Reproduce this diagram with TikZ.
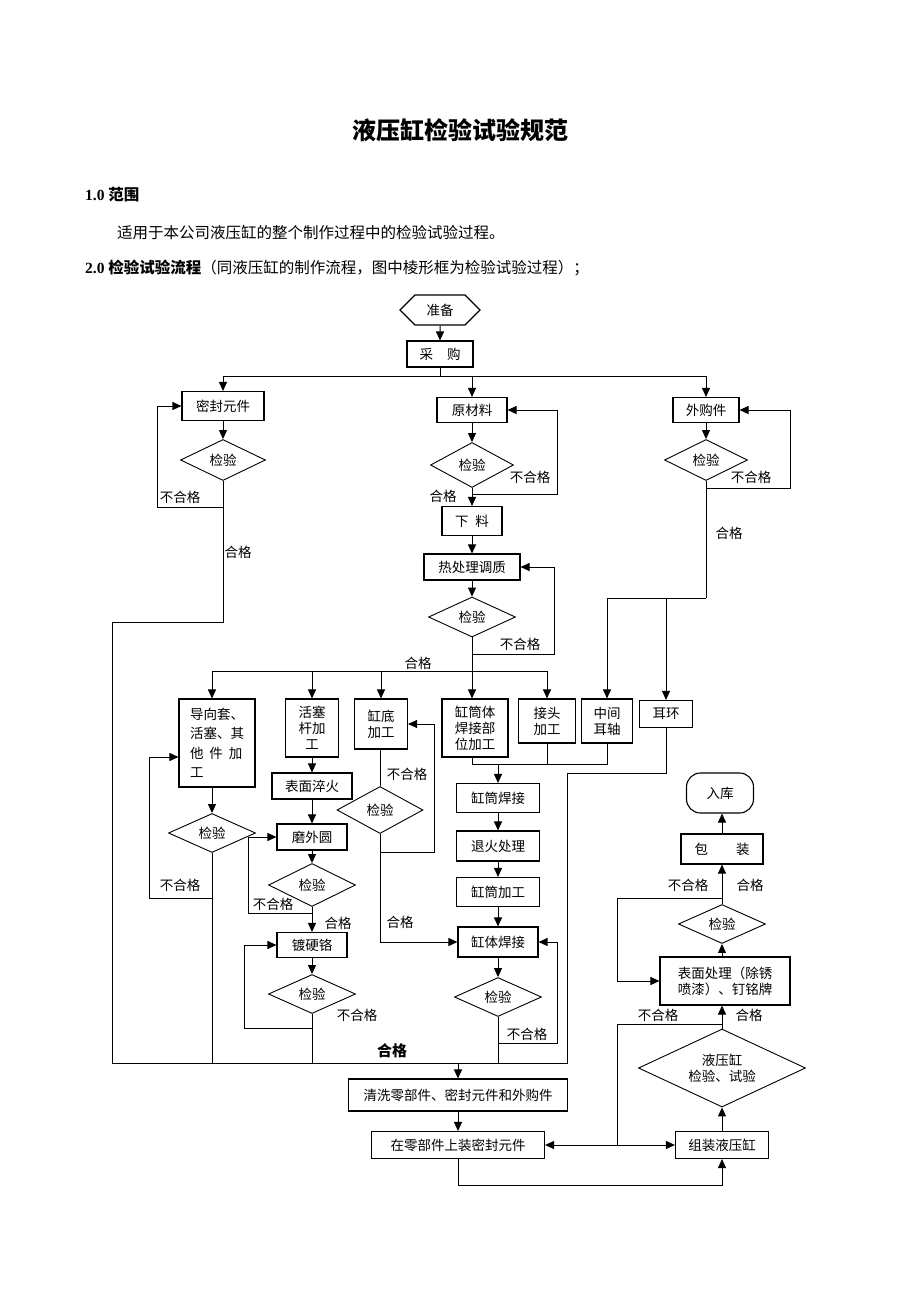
\documentclass[tikz,border=0pt]{standalone}
\usepackage{fontspec}
\setmainfont{Liberation Serif}
\newfontfamily\cjk{Noto Sans CJK SC}
\usetikzlibrary{arrows.meta,shapes.geometric,shapes.symbols}
\tikzset{
	flow/.style={font=\cjk\fontsize{13.5}{16}\selectfont},
	proc/.style={flow, draw, line width=1.1pt, inner sep=1pt, align=center},
	chk/.style={flow, draw, diamond, line width=0.9pt, inner sep=0pt, aspect=2, align=center},
	lbl/.style={flow, inner sep=0pt},
	ln/.style={line width=1pt},
	arr/.style={line width=1pt, -{Triangle[length=9pt,width=8pt]}},
	arrs/.style={line width=1pt, {Triangle[length=9pt,width=8pt]}-{Triangle[length=9pt,width=8pt]}},
}

\begin{document}
\begin{tikzpicture}[x=1pt,y=-1pt]
	%%%%% START %%%%%
	\useasboundingbox (0,0) rectangle (920,1302);
	
	% header
	\node[font=\cjk\bfseries\fontsize{24}{28}\selectfont] (title) at (460,130) {液压缸检验试验规范};
	\node[anchor=west, inner sep=0pt, font=\fontsize{15.5}{18}\selectfont] (sec1) at (85,195) {\bfseries 1.0 {\cjk 范围}};
	\node[anchor=west, inner sep=0pt, font=\cjk\fontsize{15.5}{18}\selectfont] (scope) at (117,233) {适用于本公司液压缸的整个制作过程中的检验试验过程。};
	\node[anchor=west, inner sep=0pt, font=\fontsize{15.5}{18}\selectfont] (sec2) at (85,268) {\bfseries 2.0 {\cjk 检验试验流程}\mdseries{\cjk （同液压缸的制作流程，图中棱形框为检验试验过程）；}};
	
	% bus points
	\coordinate (busA) at (440,376);
	\coordinate (busB) at (458,1063);
	\coordinate (busC) at (472,671);
	\coordinate (busD) at (706,598);
	\coordinate (busJ) at (498,764);
	\coordinate (rejT) at (617,1146);
	
	% top
	\node[proc, signal, signal to=east and west, signal pointer angle=90, minimum width=80, minimum height=30] (prep) at (440,310) {准备};
	\node[proc, minimum width=66, minimum height=26] (buy) at (440,354) {采\hspace{14pt}购};
	\draw[arr] (prep) -- (buy);
	\draw[ln] (buy.south) -- (busA);
	
	% seal elements
	\node[proc, minimum width=82, minimum height=29] (seal) at (223,406) {密封元件};
	\node[chk, minimum width=85, minimum height=41] (chkS) at (223,460) {检验};
	\draw[arr] (busA) -| (seal.north);
	\draw[arr] (seal) -- (chkS);
	\draw[arr] (chkS.south) |- (157,507) |- (seal.west);
	\draw[ln] (chkS.south) |- (112,622) |- (busB);
	\node[lbl] (lS1) at (180,497) {不合格};
	\node[lbl] (lS2) at (238,552) {合格};
	
	% raw material
	\node[proc, minimum width=70, minimum height=25] (raw) at (472,410) {原材料};
	\node[chk, minimum width=83, minimum height=45] (chkR) at (472,465) {检验};
	\node[proc, minimum width=60, minimum height=29] (cut) at (472,521) {下\hspace{7pt}料};
	\node[proc, minimum width=96, minimum height=26] (heat) at (472,567) {热处理调质};
	\node[chk, minimum width=87, minimum height=40] (chkH) at (472,617) {检验};
	\draw[arr] (busA) -| (raw.north);
	\draw[arr] (raw) -- (chkR);
	\draw[arr] (chkR) -- (cut);
	\draw[arr] (chkR.south) |- (557,494) |- (raw.east);
	\draw[arr] (cut) -- (heat);
	\draw[arr] (heat) -- (chkH);
	\draw[arr] (chkH.south) |- (554,654) |- (heat.east);
	\node[lbl] (lR1) at (530,477) {不合格};
	\node[lbl] (lR2) at (443,496) {合格};
	\node[lbl] (lH1) at (520,644) {不合格};
	\node[lbl] (lH2) at (418,663) {合格};
	
	% bought parts
	\node[proc, minimum width=66, minimum height=25] (ext) at (706,410) {外购件};
	\node[chk, minimum width=83, minimum height=41] (chkE) at (706,460) {检验};
	\draw[arr] (busA) -| (ext.north);
	\draw[arr] (ext) -- (chkE);
	\draw[arr] (chkE.south) |- (790,488) |- (ext.east);
	\draw[ln] (chkE.south) -- (busD);
	\node[lbl] (lE1) at (751,477) {不合格};
	\node[lbl] (lE2) at (729,533) {合格};
	
	% machining row
	\node[proc, minimum width=76, minimum height=88, align=left, font=\cjk\fontsize{13.5}{19.5}\selectfont] (guide) at (217,743) {导向套、\\活塞、其\\他\hspace{6pt}件\hspace{6pt}加\\工};
	\node[proc, minimum width=53, minimum height=58] (rod) at (312,728) {活塞\\杆加\\工};
	\node[proc, minimum width=53, minimum height=50] (bottom) at (381,724) {缸底\\加工};
	\node[proc, minimum width=66, minimum height=58] (tube) at (475,728) {缸筒体\\焊接部\\位加工};
	\node[proc, minimum width=57, minimum height=44] (joint) at (547,721) {接头\\加工};
	\node[proc, minimum width=51, minimum height=44] (trun) at (607,721) {中间\\耳轴};
	\node[proc, minimum width=53, minimum height=27] (ear) at (666,714) {耳环};
	\draw[arr] (chkH.south) -- (chkH.south |- tube.north);
	\draw[arr] (busC) -| ([xshift=-5pt]guide.north);
	\draw[arr] (busC) -| (rod.north);
	\draw[arr] (busC) -| (bottom.north);
	\draw[arr] (busC) -| (joint.north);
	\draw[arr] (busD) -| (trun.north);
	\draw[arr] (busD) -| (ear.north);
	
	% guide sleeve
	\node[chk, minimum width=87, minimum height=39] (chkGd) at (212,833) {检验};
	\draw[arr] (guide.south -| chkGd.north) -- (chkGd.north);
	\draw[arr] (chkGd.south) |- (149,898) |- ([yshift=-14pt]guide.west);
	\draw[ln] (chkGd.south) -- (chkGd.south |- busB);
	\node[lbl] (lGd) at (180,885) {不合格};
	
	% piston rod
	\node[proc, minimum width=80, minimum height=26] (quench) at (312,786) {表面淬火};
	\node[proc, minimum width=70, minimum height=26] (grind) at (312,837) {磨外圆};
	\node[chk, minimum width=87, minimum height=43] (chkG) at (312,885) {检验};
	\node[proc, minimum width=70, minimum height=25] (chrome) at (312,945) {镀硬铬};
	\node[chk, minimum width=87, minimum height=39] (chkC) at (312,994) {检验};
	\draw[arr] (rod) -- (quench);
	\draw[arr] (quench) -- (grind);
	\draw[arr] (grind) -- (chkG);
	\draw[arr] (chkG.south) |- (248,913) |- (grind.west);
	\draw[arr] (chkG) -- (chrome);
	\draw[arr] (chrome) -- (chkC);
	\draw[arr] (chkC.south) |- (244,1028) |- (chrome.west);
	\draw[ln] (chkC.south) -- (chkC.south |- busB);
	\node[lbl] (lG1) at (273,904) {不合格};
	\node[lbl] (lG2) at (338,923) {合格};
	\node[lbl] (lC1) at (357,1015) {不合格};
	
	% cylinder bottom
	\node[chk, minimum width=86, minimum height=47] (chkB) at (380,810) {检验};
	\draw[ln] (bottom.south -| chkB.north) -- (chkB.north);
	\draw[arr] (chkB.south) |- (434,852) |- (bottom.east);
	\node[lbl] (lB1) at (407,774) {不合格};
	\node[lbl] (lB2) at (400,922) {合格};
	
	% cylinder tube
	\node[proc, minimum width=83, minimum height=29] (weld) at (498,798) {缸筒焊接};
	\node[proc, minimum width=83, minimum height=30] (anneal) at (498,846) {退火处理};
	\node[proc, minimum width=83, minimum height=29] (tubem) at (498,892) {缸筒加工};
	\node[proc, minimum width=80, minimum height=30] (body) at (498,942) {缸体焊接};
	\node[chk, minimum width=87, minimum height=39] (chkW) at (498,997) {检验};
	\draw[ln] (tube.south -| chkH.south) |- (trun.south |- busJ) -- (trun.south);
	\draw[ln] (joint.south) -- (joint.south |- busJ);
	\draw[arr] (busJ) -- (weld.north);
	\draw[arr] (weld) -- (anneal);
	\draw[arr] (anneal) -- (tubem);
	\draw[arr] (tubem) -- (body);
	\draw[arr] (chkB.south) |- (body.west);
	\draw[arr] (body) -- (chkW);
	\draw[arr] (chkW.south) |- (557,1043) |- (body.east);
	\draw[ln] (chkW.south) -- (chkW.south |- busB);
	\draw[ln] (ear.south) |- (567,773) |- (busB);
	\node[lbl] (lW1) at (527,1034) {不合格};
	\node[lbl, font=\cjk\bfseries\fontsize{15}{18}\selectfont] (lBus) at (392,1051) {合格};
	
	% assembly
	\node[proc, minimum width=219, minimum height=32] (clean) at (458,1095) {清洗零部件、密封元件和外购件};
	\node[proc, minimum width=173, minimum height=27] (fit) at (458,1145) {在零部件上装密封元件};
	\node[proc, minimum width=93, minimum height=27] (assem) at (722,1145) {组装液压缸};
	\node[chk, minimum width=167, minimum height=78] (chkT) at (722,1068) {液压缸\\检验、试验};
	\node[proc, minimum width=130, minimum height=48] (surf) at (725,981) {表面处理（除锈\\喷漆）、钉铭牌};
	\node[chk, minimum width=87, minimum height=39] (chkP) at (722,924) {检验};
	\node[proc, minimum width=82, minimum height=30] (pack) at (722,849) {包\hspace{28pt}装};
	\node[proc, minimum width=67, minimum height=40, rounded corners=14pt] (store) at (720,793) {入库};
	\draw[arr] (busB) -- (clean.north);
	\draw[arr] (clean) -- (fit);
	\draw[arr] (fit.south) -- ++(0,26) -| (assem.south);
	\draw[arrs] (fit.east) -- (assem.west);
	\draw[arr] (assem) -- (chkT);
	\draw[arr] (chkT.north) -- (chkT.north |- surf.south);
	\draw[ln] (chkT.north) |- (617,1024) -- (rejT);
	\draw[arr] (surf.north -| chkP.south) -- (chkP.south);
	\draw[arr] (chkP) -- (pack);
	\draw[arr] (chkP.north) |- (617,898) |- (surf.west);
	\draw[arr] (pack.north) -- (pack.north |- store.south);
	\node[lbl] (lT1) at (658,1015) {不合格};
	\node[lbl] (lT2) at (749,1015) {合格};
	\node[lbl] (lP1) at (688,885) {不合格};
	\node[lbl] (lP2) at (750,885) {合格};
	%%%%% END %%%%%
\end{tikzpicture}
\end{document}
